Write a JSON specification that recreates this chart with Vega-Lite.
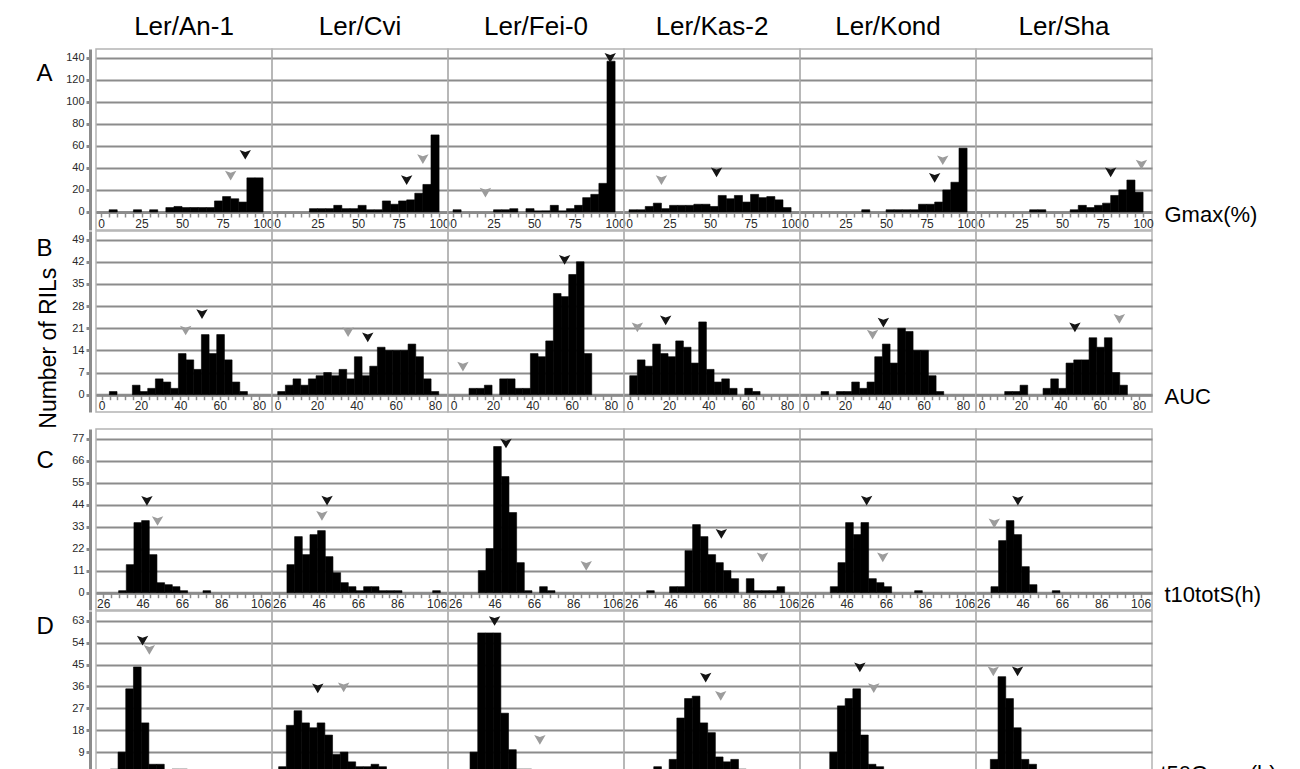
{
  "$schema": "https://vega.github.io/schema/vega-lite/v6.json",
  "background": "white",
  "padding": {"left": 35, "top": 13, "right": 5, "bottom": 0},
  "spacing": -39.5,
  "datasets": {
    "gmax": [
      {"cross":"Ler/An-1","lo":5,"hi":10,"n":2},{"cross":"Ler/An-1","lo":20,"hi":25,"n":2},{"cross":"Ler/An-1","lo":30,"hi":35,"n":2},{"cross":"Ler/An-1","lo":40,"hi":45,"n":4},{"cross":"Ler/An-1","lo":45,"hi":50,"n":5},{"cross":"Ler/An-1","lo":50,"hi":55,"n":4},{"cross":"Ler/An-1","lo":55,"hi":60,"n":4},{"cross":"Ler/An-1","lo":60,"hi":65,"n":4},{"cross":"Ler/An-1","lo":65,"hi":70,"n":4},{"cross":"Ler/An-1","lo":70,"hi":75,"n":10},{"cross":"Ler/An-1","lo":75,"hi":80,"n":14},{"cross":"Ler/An-1","lo":80,"hi":85,"n":12},{"cross":"Ler/An-1","lo":85,"hi":90,"n":9},{"cross":"Ler/An-1","lo":90,"hi":95,"n":31},{"cross":"Ler/An-1","lo":95,"hi":100,"n":31},
      {"cross":"Ler/Cvi","lo":20,"hi":25,"n":3},{"cross":"Ler/Cvi","lo":25,"hi":30,"n":3},{"cross":"Ler/Cvi","lo":30,"hi":35,"n":3},{"cross":"Ler/Cvi","lo":35,"hi":40,"n":6},{"cross":"Ler/Cvi","lo":40,"hi":45,"n":3},{"cross":"Ler/Cvi","lo":45,"hi":50,"n":3},{"cross":"Ler/Cvi","lo":50,"hi":55,"n":6},{"cross":"Ler/Cvi","lo":55,"hi":60,"n":2},{"cross":"Ler/Cvi","lo":60,"hi":65,"n":2},{"cross":"Ler/Cvi","lo":65,"hi":70,"n":10},{"cross":"Ler/Cvi","lo":70,"hi":75,"n":7},{"cross":"Ler/Cvi","lo":75,"hi":80,"n":10},{"cross":"Ler/Cvi","lo":80,"hi":85,"n":11},{"cross":"Ler/Cvi","lo":85,"hi":90,"n":17},{"cross":"Ler/Cvi","lo":90,"hi":95,"n":25},{"cross":"Ler/Cvi","lo":95,"hi":100,"n":70},
      {"cross":"Ler/Fei-0","lo":0,"hi":5,"n":2},{"cross":"Ler/Fei-0","lo":25,"hi":30,"n":2},{"cross":"Ler/Fei-0","lo":30,"hi":35,"n":2},{"cross":"Ler/Fei-0","lo":35,"hi":40,"n":3},{"cross":"Ler/Fei-0","lo":45,"hi":50,"n":3},{"cross":"Ler/Fei-0","lo":50,"hi":55,"n":1},{"cross":"Ler/Fei-0","lo":55,"hi":60,"n":1},{"cross":"Ler/Fei-0","lo":60,"hi":65,"n":6},{"cross":"Ler/Fei-0","lo":65,"hi":70,"n":1},{"cross":"Ler/Fei-0","lo":70,"hi":75,"n":3},{"cross":"Ler/Fei-0","lo":75,"hi":80,"n":6},{"cross":"Ler/Fei-0","lo":80,"hi":85,"n":13},{"cross":"Ler/Fei-0","lo":85,"hi":90,"n":16},{"cross":"Ler/Fei-0","lo":90,"hi":95,"n":26},{"cross":"Ler/Fei-0","lo":95,"hi":100,"n":137},
      {"cross":"Ler/Kas-2","lo":0,"hi":5,"n":2},{"cross":"Ler/Kas-2","lo":5,"hi":10,"n":2},{"cross":"Ler/Kas-2","lo":10,"hi":15,"n":5},{"cross":"Ler/Kas-2","lo":15,"hi":20,"n":8},{"cross":"Ler/Kas-2","lo":20,"hi":25,"n":3},{"cross":"Ler/Kas-2","lo":25,"hi":30,"n":6},{"cross":"Ler/Kas-2","lo":30,"hi":35,"n":6},{"cross":"Ler/Kas-2","lo":35,"hi":40,"n":6},{"cross":"Ler/Kas-2","lo":40,"hi":45,"n":7},{"cross":"Ler/Kas-2","lo":45,"hi":50,"n":7},{"cross":"Ler/Kas-2","lo":50,"hi":55,"n":5},{"cross":"Ler/Kas-2","lo":55,"hi":60,"n":15},{"cross":"Ler/Kas-2","lo":60,"hi":65,"n":12},{"cross":"Ler/Kas-2","lo":65,"hi":70,"n":15},{"cross":"Ler/Kas-2","lo":70,"hi":75,"n":9},{"cross":"Ler/Kas-2","lo":75,"hi":80,"n":16},{"cross":"Ler/Kas-2","lo":80,"hi":85,"n":13},{"cross":"Ler/Kas-2","lo":85,"hi":90,"n":14},{"cross":"Ler/Kas-2","lo":90,"hi":95,"n":11},{"cross":"Ler/Kas-2","lo":95,"hi":100,"n":4},
      {"cross":"Ler/Kond","lo":35,"hi":40,"n":2},{"cross":"Ler/Kond","lo":50,"hi":55,"n":2},{"cross":"Ler/Kond","lo":55,"hi":60,"n":2},{"cross":"Ler/Kond","lo":60,"hi":65,"n":2},{"cross":"Ler/Kond","lo":65,"hi":70,"n":2},{"cross":"Ler/Kond","lo":70,"hi":75,"n":7},{"cross":"Ler/Kond","lo":75,"hi":80,"n":7},{"cross":"Ler/Kond","lo":80,"hi":85,"n":9},{"cross":"Ler/Kond","lo":85,"hi":90,"n":20},{"cross":"Ler/Kond","lo":90,"hi":95,"n":27},{"cross":"Ler/Kond","lo":95,"hi":100,"n":58},
      {"cross":"Ler/Sha","lo":30,"hi":35,"n":2},{"cross":"Ler/Sha","lo":35,"hi":40,"n":2},{"cross":"Ler/Sha","lo":55,"hi":60,"n":2},{"cross":"Ler/Sha","lo":60,"hi":65,"n":6},{"cross":"Ler/Sha","lo":65,"hi":70,"n":4},{"cross":"Ler/Sha","lo":70,"hi":75,"n":6},{"cross":"Ler/Sha","lo":75,"hi":80,"n":8},{"cross":"Ler/Sha","lo":80,"hi":85,"n":15},{"cross":"Ler/Sha","lo":85,"hi":90,"n":20},{"cross":"Ler/Sha","lo":90,"hi":95,"n":29},{"cross":"Ler/Sha","lo":95,"hi":100,"n":18},
      {"cross":"Ler/An-1","parent":"Ler","value":89,"level":52},{"cross":"Ler/An-1","parent":"other","value":80,"level":33},
      {"cross":"Ler/Cvi","parent":"Ler","value":80,"level":29},{"cross":"Ler/Cvi","parent":"other","value":90,"level":48},
      {"cross":"Ler/Fei-0","parent":"Ler","value":97,"level":140},{"cross":"Ler/Fei-0","parent":"other","value":20,"level":17.5},
      {"cross":"Ler/Kas-2","parent":"Ler","value":54,"level":36},{"cross":"Ler/Kas-2","parent":"other","value":20,"level":29},
      {"cross":"Ler/Kond","parent":"Ler","value":80,"level":31},{"cross":"Ler/Kond","parent":"other","value":85,"level":47},
      {"cross":"Ler/Sha","parent":"Ler","value":80,"level":36},{"cross":"Ler/Sha","parent":"other","value":99,"level":43}
    ],
    "auc": [
      {"cross":"Ler/An-1","lo":3.9,"hi":7.8,"n":1},{"cross":"Ler/An-1","lo":15.6,"hi":19.5,"n":3},{"cross":"Ler/An-1","lo":19.5,"hi":23.4,"n":1},{"cross":"Ler/An-1","lo":23.4,"hi":27.3,"n":2},{"cross":"Ler/An-1","lo":27.3,"hi":31.2,"n":5},{"cross":"Ler/An-1","lo":31.2,"hi":35.1,"n":4},{"cross":"Ler/An-1","lo":35.1,"hi":39,"n":2},{"cross":"Ler/An-1","lo":39,"hi":42.9,"n":13},{"cross":"Ler/An-1","lo":42.9,"hi":46.8,"n":11},{"cross":"Ler/An-1","lo":46.8,"hi":50.7,"n":8},{"cross":"Ler/An-1","lo":50.7,"hi":54.6,"n":19},{"cross":"Ler/An-1","lo":54.6,"hi":58.5,"n":13},{"cross":"Ler/An-1","lo":58.5,"hi":62.4,"n":19},{"cross":"Ler/An-1","lo":62.4,"hi":66.3,"n":11},{"cross":"Ler/An-1","lo":66.3,"hi":70.2,"n":4},{"cross":"Ler/An-1","lo":70.2,"hi":74.1,"n":1},
      {"cross":"Ler/Cvi","lo":0,"hi":3.9,"n":1},{"cross":"Ler/Cvi","lo":3.9,"hi":7.8,"n":3},{"cross":"Ler/Cvi","lo":7.8,"hi":11.7,"n":5},{"cross":"Ler/Cvi","lo":11.7,"hi":15.6,"n":3},{"cross":"Ler/Cvi","lo":15.6,"hi":19.5,"n":5},{"cross":"Ler/Cvi","lo":19.5,"hi":23.4,"n":6},{"cross":"Ler/Cvi","lo":23.4,"hi":27.3,"n":7},{"cross":"Ler/Cvi","lo":27.3,"hi":31.2,"n":6},{"cross":"Ler/Cvi","lo":31.2,"hi":35.1,"n":8},{"cross":"Ler/Cvi","lo":35.1,"hi":39,"n":5},{"cross":"Ler/Cvi","lo":39,"hi":42.9,"n":12},{"cross":"Ler/Cvi","lo":42.9,"hi":46.8,"n":6},{"cross":"Ler/Cvi","lo":46.8,"hi":50.7,"n":9},{"cross":"Ler/Cvi","lo":50.7,"hi":54.6,"n":15},{"cross":"Ler/Cvi","lo":54.6,"hi":58.5,"n":14},{"cross":"Ler/Cvi","lo":58.5,"hi":62.4,"n":14},{"cross":"Ler/Cvi","lo":62.4,"hi":66.3,"n":14},{"cross":"Ler/Cvi","lo":66.3,"hi":70.2,"n":16},{"cross":"Ler/Cvi","lo":70.2,"hi":74.1,"n":12},{"cross":"Ler/Cvi","lo":74.1,"hi":78,"n":5},{"cross":"Ler/Cvi","lo":78,"hi":81.9,"n":1},
      {"cross":"Ler/Fei-0","lo":7.8,"hi":11.7,"n":2},{"cross":"Ler/Fei-0","lo":11.7,"hi":15.6,"n":2},{"cross":"Ler/Fei-0","lo":15.6,"hi":19.5,"n":3},{"cross":"Ler/Fei-0","lo":23.4,"hi":27.3,"n":5},{"cross":"Ler/Fei-0","lo":27.3,"hi":31.2,"n":5},{"cross":"Ler/Fei-0","lo":31.2,"hi":35.1,"n":2},{"cross":"Ler/Fei-0","lo":35.1,"hi":39,"n":2},{"cross":"Ler/Fei-0","lo":39,"hi":42.9,"n":13},{"cross":"Ler/Fei-0","lo":42.9,"hi":46.8,"n":12},{"cross":"Ler/Fei-0","lo":46.8,"hi":50.7,"n":17},{"cross":"Ler/Fei-0","lo":50.7,"hi":54.6,"n":32},{"cross":"Ler/Fei-0","lo":54.6,"hi":58.5,"n":31},{"cross":"Ler/Fei-0","lo":58.5,"hi":62.4,"n":38},{"cross":"Ler/Fei-0","lo":62.4,"hi":66.3,"n":42},{"cross":"Ler/Fei-0","lo":66.3,"hi":70.2,"n":13},
      {"cross":"Ler/Kas-2","lo":0,"hi":3.9,"n":6},{"cross":"Ler/Kas-2","lo":3.9,"hi":7.8,"n":11},{"cross":"Ler/Kas-2","lo":7.8,"hi":11.7,"n":9},{"cross":"Ler/Kas-2","lo":11.7,"hi":15.6,"n":16},{"cross":"Ler/Kas-2","lo":15.6,"hi":19.5,"n":13},{"cross":"Ler/Kas-2","lo":19.5,"hi":23.4,"n":12},{"cross":"Ler/Kas-2","lo":23.4,"hi":27.3,"n":17},{"cross":"Ler/Kas-2","lo":27.3,"hi":31.2,"n":15},{"cross":"Ler/Kas-2","lo":31.2,"hi":35.1,"n":10},{"cross":"Ler/Kas-2","lo":35.1,"hi":39,"n":23},{"cross":"Ler/Kas-2","lo":39,"hi":42.9,"n":8},{"cross":"Ler/Kas-2","lo":42.9,"hi":46.8,"n":4},{"cross":"Ler/Kas-2","lo":46.8,"hi":50.7,"n":5},{"cross":"Ler/Kas-2","lo":50.7,"hi":54.6,"n":2},{"cross":"Ler/Kas-2","lo":58.5,"hi":62.4,"n":2},{"cross":"Ler/Kas-2","lo":62.4,"hi":66.3,"n":1},
      {"cross":"Ler/Kond","lo":7.8,"hi":11.7,"n":1},{"cross":"Ler/Kond","lo":15.6,"hi":19.5,"n":1},{"cross":"Ler/Kond","lo":19.5,"hi":23.4,"n":1},{"cross":"Ler/Kond","lo":23.4,"hi":27.3,"n":4},{"cross":"Ler/Kond","lo":27.3,"hi":31.2,"n":2},{"cross":"Ler/Kond","lo":31.2,"hi":35.1,"n":4},{"cross":"Ler/Kond","lo":35.1,"hi":39,"n":12},{"cross":"Ler/Kond","lo":39,"hi":42.9,"n":16},{"cross":"Ler/Kond","lo":42.9,"hi":46.8,"n":10},{"cross":"Ler/Kond","lo":46.8,"hi":50.7,"n":21},{"cross":"Ler/Kond","lo":50.7,"hi":54.6,"n":20},{"cross":"Ler/Kond","lo":54.6,"hi":58.5,"n":14},{"cross":"Ler/Kond","lo":58.5,"hi":62.4,"n":14},{"cross":"Ler/Kond","lo":62.4,"hi":66.3,"n":6},{"cross":"Ler/Kond","lo":66.3,"hi":70.2,"n":1},
      {"cross":"Ler/Sha","lo":11.7,"hi":15.6,"n":1},{"cross":"Ler/Sha","lo":15.6,"hi":19.5,"n":1},{"cross":"Ler/Sha","lo":19.5,"hi":23.4,"n":3},{"cross":"Ler/Sha","lo":31.2,"hi":35.1,"n":2},{"cross":"Ler/Sha","lo":35.1,"hi":39,"n":5},{"cross":"Ler/Sha","lo":39,"hi":42.9,"n":2},{"cross":"Ler/Sha","lo":42.9,"hi":46.8,"n":10},{"cross":"Ler/Sha","lo":46.8,"hi":50.7,"n":11},{"cross":"Ler/Sha","lo":50.7,"hi":54.6,"n":11},{"cross":"Ler/Sha","lo":54.6,"hi":58.5,"n":18},{"cross":"Ler/Sha","lo":58.5,"hi":62.4,"n":15},{"cross":"Ler/Sha","lo":62.4,"hi":66.3,"n":18},{"cross":"Ler/Sha","lo":66.3,"hi":70.2,"n":7},{"cross":"Ler/Sha","lo":70.2,"hi":74.1,"n":3},
      {"cross":"Ler/An-1","parent":"other","value":42.7,"level":20.3},{"cross":"Ler/An-1","parent":"Ler","value":51,"level":25.5},
      {"cross":"Ler/Cvi","parent":"other","value":35.8,"level":19.8},{"cross":"Ler/Cvi","parent":"Ler","value":45.8,"level":18.1},
      {"cross":"Ler/Fei-0","parent":"other","value":4.7,"level":8.9},{"cross":"Ler/Fei-0","parent":"Ler","value":56.4,"level":42.6},
      {"cross":"Ler/Kas-2","parent":"other","value":3.9,"level":21.3},{"cross":"Ler/Kas-2","parent":"Ler","value":18.3,"level":23.5},
      {"cross":"Ler/Kond","parent":"other","value":34,"level":19},{"cross":"Ler/Kond","parent":"Ler","value":39.5,"level":22.8},
      {"cross":"Ler/Sha","parent":"Ler","value":47.4,"level":21.3},{"cross":"Ler/Sha","parent":"other","value":70,"level":24}
    ],
    "t10": [
      {"cross":"Ler/An-1","lo":33.8,"hi":37.7,"n":1},{"cross":"Ler/An-1","lo":37.7,"hi":41.6,"n":14},{"cross":"Ler/An-1","lo":41.6,"hi":45.5,"n":35},{"cross":"Ler/An-1","lo":45.5,"hi":49.4,"n":36},{"cross":"Ler/An-1","lo":49.4,"hi":53.3,"n":19},{"cross":"Ler/An-1","lo":53.3,"hi":57.2,"n":5},{"cross":"Ler/An-1","lo":57.2,"hi":61.1,"n":4},{"cross":"Ler/An-1","lo":61.1,"hi":65,"n":3},{"cross":"Ler/An-1","lo":65,"hi":68.9,"n":1},{"cross":"Ler/An-1","lo":76.7,"hi":80.6,"n":1},
      {"cross":"Ler/Cvi","lo":29.9,"hi":33.8,"n":14},{"cross":"Ler/Cvi","lo":33.8,"hi":37.7,"n":28},{"cross":"Ler/Cvi","lo":37.7,"hi":41.6,"n":19},{"cross":"Ler/Cvi","lo":41.6,"hi":45.5,"n":29},{"cross":"Ler/Cvi","lo":45.5,"hi":49.4,"n":31},{"cross":"Ler/Cvi","lo":49.4,"hi":53.3,"n":18},{"cross":"Ler/Cvi","lo":53.3,"hi":57.2,"n":10},{"cross":"Ler/Cvi","lo":57.2,"hi":61.1,"n":5},{"cross":"Ler/Cvi","lo":61.1,"hi":65,"n":3},{"cross":"Ler/Cvi","lo":65,"hi":68.9,"n":1},{"cross":"Ler/Cvi","lo":68.9,"hi":72.8,"n":3},{"cross":"Ler/Cvi","lo":72.8,"hi":76.7,"n":3},{"cross":"Ler/Cvi","lo":76.7,"hi":80.6,"n":1},{"cross":"Ler/Cvi","lo":80.6,"hi":84.5,"n":1},{"cross":"Ler/Cvi","lo":84.5,"hi":88.4,"n":1},{"cross":"Ler/Cvi","lo":104,"hi":107.9,"n":1},
      {"cross":"Ler/Fei-0","lo":37.7,"hi":41.6,"n":11},{"cross":"Ler/Fei-0","lo":41.6,"hi":45.5,"n":22},{"cross":"Ler/Fei-0","lo":45.5,"hi":49.4,"n":73},{"cross":"Ler/Fei-0","lo":49.4,"hi":53.3,"n":58},{"cross":"Ler/Fei-0","lo":53.3,"hi":57.2,"n":40},{"cross":"Ler/Fei-0","lo":57.2,"hi":61.1,"n":15},{"cross":"Ler/Fei-0","lo":61.1,"hi":65,"n":1},{"cross":"Ler/Fei-0","lo":68.9,"hi":72.8,"n":3},{"cross":"Ler/Fei-0","lo":72.8,"hi":76.7,"n":1},
      {"cross":"Ler/Kas-2","lo":33.8,"hi":37.7,"n":1},{"cross":"Ler/Kas-2","lo":45.5,"hi":49.4,"n":3},{"cross":"Ler/Kas-2","lo":49.4,"hi":53.3,"n":3},{"cross":"Ler/Kas-2","lo":53.3,"hi":57.2,"n":21},{"cross":"Ler/Kas-2","lo":57.2,"hi":61.1,"n":34},{"cross":"Ler/Kas-2","lo":61.1,"hi":65,"n":28},{"cross":"Ler/Kas-2","lo":65,"hi":68.9,"n":19},{"cross":"Ler/Kas-2","lo":68.9,"hi":72.8,"n":15},{"cross":"Ler/Kas-2","lo":72.8,"hi":76.7,"n":11},{"cross":"Ler/Kas-2","lo":76.7,"hi":80.6,"n":7},{"cross":"Ler/Kas-2","lo":84.5,"hi":88.4,"n":7},{"cross":"Ler/Kas-2","lo":88.4,"hi":92.3,"n":1},{"cross":"Ler/Kas-2","lo":92.3,"hi":96.2,"n":1},{"cross":"Ler/Kas-2","lo":96.2,"hi":100.1,"n":1},{"cross":"Ler/Kas-2","lo":100.1,"hi":104,"n":3},
      {"cross":"Ler/Kond","lo":37.7,"hi":41.6,"n":3},{"cross":"Ler/Kond","lo":41.6,"hi":45.5,"n":15},{"cross":"Ler/Kond","lo":45.5,"hi":49.4,"n":35},{"cross":"Ler/Kond","lo":49.4,"hi":53.3,"n":29},{"cross":"Ler/Kond","lo":53.3,"hi":57.2,"n":35},{"cross":"Ler/Kond","lo":57.2,"hi":61.1,"n":7},{"cross":"Ler/Kond","lo":61.1,"hi":65,"n":5},{"cross":"Ler/Kond","lo":65,"hi":68.9,"n":3},{"cross":"Ler/Kond","lo":80.6,"hi":84.5,"n":1},
      {"cross":"Ler/Sha","lo":29.9,"hi":33.8,"n":3},{"cross":"Ler/Sha","lo":33.8,"hi":37.7,"n":26},{"cross":"Ler/Sha","lo":37.7,"hi":41.6,"n":36},{"cross":"Ler/Sha","lo":41.6,"hi":45.5,"n":29},{"cross":"Ler/Sha","lo":45.5,"hi":49.4,"n":13},{"cross":"Ler/Sha","lo":49.4,"hi":53.3,"n":4},{"cross":"Ler/Sha","lo":61.1,"hi":65,"n":1},
      {"cross":"Ler/An-1","parent":"Ler","value":48.2,"level":45.9},{"cross":"Ler/An-1","parent":"other","value":53.6,"level":35.8},
      {"cross":"Ler/Cvi","parent":"Ler","value":50.3,"level":46},{"cross":"Ler/Cvi","parent":"other","value":47.7,"level":38.4},
      {"cross":"Ler/Fei-0","parent":"Ler","value":51.8,"level":74.5},{"cross":"Ler/Fei-0","parent":"other","value":92.6,"level":13.4},
      {"cross":"Ler/Kas-2","parent":"Ler","value":71.8,"level":29.4},{"cross":"Ler/Kas-2","parent":"other","value":92.7,"level":17.6},
      {"cross":"Ler/Kond","parent":"Ler","value":56.2,"level":46},{"cross":"Ler/Kond","parent":"other","value":64.4,"level":17.6},
      {"cross":"Ler/Sha","parent":"other","value":31.6,"level":34.6},{"cross":"Ler/Sha","parent":"Ler","value":43.6,"level":46}
    ],
    "t50": [
      {"cross":"Ler/An-1","lo":39.76,"hi":44.52,"n":2},{"cross":"Ler/An-1","lo":44.52,"hi":49.29,"n":9},{"cross":"Ler/An-1","lo":49.29,"hi":54.05,"n":35},{"cross":"Ler/An-1","lo":54.05,"hi":58.81,"n":44},{"cross":"Ler/An-1","lo":58.81,"hi":63.57,"n":21},{"cross":"Ler/An-1","lo":63.57,"hi":68.33,"n":4},{"cross":"Ler/An-1","lo":68.33,"hi":73.1,"n":4},{"cross":"Ler/An-1","lo":77.86,"hi":82.62,"n":2},{"cross":"Ler/An-1","lo":82.62,"hi":87.38,"n":2},
      {"cross":"Ler/Cvi","lo":35,"hi":39.76,"n":3},{"cross":"Ler/Cvi","lo":39.76,"hi":44.52,"n":20},{"cross":"Ler/Cvi","lo":44.52,"hi":49.29,"n":26},{"cross":"Ler/Cvi","lo":49.29,"hi":54.05,"n":21},{"cross":"Ler/Cvi","lo":54.05,"hi":58.81,"n":19},{"cross":"Ler/Cvi","lo":58.81,"hi":63.57,"n":21},{"cross":"Ler/Cvi","lo":63.57,"hi":68.33,"n":16},{"cross":"Ler/Cvi","lo":68.33,"hi":73.1,"n":8},{"cross":"Ler/Cvi","lo":73.1,"hi":77.86,"n":9},{"cross":"Ler/Cvi","lo":77.86,"hi":82.62,"n":5},{"cross":"Ler/Cvi","lo":82.62,"hi":87.38,"n":3},{"cross":"Ler/Cvi","lo":87.38,"hi":92.14,"n":3},{"cross":"Ler/Cvi","lo":92.14,"hi":96.9,"n":4},{"cross":"Ler/Cvi","lo":96.9,"hi":101.67,"n":3},{"cross":"Ler/Cvi","lo":130.24,"hi":135,"n":1},
      {"cross":"Ler/Fei-0","lo":44.52,"hi":49.29,"n":9},{"cross":"Ler/Fei-0","lo":49.29,"hi":54.05,"n":58},{"cross":"Ler/Fei-0","lo":54.05,"hi":58.81,"n":58},{"cross":"Ler/Fei-0","lo":58.81,"hi":63.57,"n":58},{"cross":"Ler/Fei-0","lo":63.57,"hi":68.33,"n":25},{"cross":"Ler/Fei-0","lo":68.33,"hi":73.1,"n":10},{"cross":"Ler/Fei-0","lo":73.1,"hi":77.86,"n":2},{"cross":"Ler/Fei-0","lo":77.86,"hi":82.62,"n":2},{"cross":"Ler/Fei-0","lo":82.62,"hi":87.38,"n":1},
      {"cross":"Ler/Kas-2","lo":49.29,"hi":54.05,"n":3},{"cross":"Ler/Kas-2","lo":54.05,"hi":58.81,"n":1},{"cross":"Ler/Kas-2","lo":58.81,"hi":63.57,"n":6},{"cross":"Ler/Kas-2","lo":63.57,"hi":68.33,"n":23},{"cross":"Ler/Kas-2","lo":68.33,"hi":73.1,"n":31},{"cross":"Ler/Kas-2","lo":73.1,"hi":77.86,"n":32},{"cross":"Ler/Kas-2","lo":77.86,"hi":82.62,"n":21},{"cross":"Ler/Kas-2","lo":82.62,"hi":87.38,"n":17},{"cross":"Ler/Kas-2","lo":87.38,"hi":92.14,"n":7},{"cross":"Ler/Kas-2","lo":92.14,"hi":96.9,"n":5},{"cross":"Ler/Kas-2","lo":96.9,"hi":101.67,"n":6},{"cross":"Ler/Kas-2","lo":101.67,"hi":106.43,"n":2},
      {"cross":"Ler/Kond","lo":44.52,"hi":49.29,"n":1},{"cross":"Ler/Kond","lo":49.29,"hi":54.05,"n":9},{"cross":"Ler/Kond","lo":54.05,"hi":58.81,"n":28},{"cross":"Ler/Kond","lo":58.81,"hi":63.57,"n":31},{"cross":"Ler/Kond","lo":63.57,"hi":68.33,"n":35},{"cross":"Ler/Kond","lo":68.33,"hi":73.1,"n":16},{"cross":"Ler/Kond","lo":73.1,"hi":77.86,"n":4},{"cross":"Ler/Kond","lo":77.86,"hi":82.62,"n":3},{"cross":"Ler/Kond","lo":87.38,"hi":92.14,"n":1},
      {"cross":"Ler/Sha","lo":35,"hi":39.76,"n":1},{"cross":"Ler/Sha","lo":39.76,"hi":44.52,"n":6},{"cross":"Ler/Sha","lo":44.52,"hi":49.29,"n":40},{"cross":"Ler/Sha","lo":49.29,"hi":54.05,"n":31},{"cross":"Ler/Sha","lo":54.05,"hi":58.81,"n":19},{"cross":"Ler/Sha","lo":58.81,"hi":63.57,"n":6},{"cross":"Ler/Sha","lo":63.57,"hi":68.33,"n":4},
      {"cross":"Ler/An-1","parent":"Ler","value":59.7,"level":54.8},{"cross":"Ler/An-1","parent":"other","value":63.9,"level":51},
      {"cross":"Ler/Cvi","parent":"Ler","value":59.2,"level":35.2},{"cross":"Ler/Cvi","parent":"other","value":75.2,"level":35.6},
      {"cross":"Ler/Fei-0","parent":"Ler","value":59.7,"level":62.9},{"cross":"Ler/Fei-0","parent":"other","value":87.7,"level":14},
      {"cross":"Ler/Kas-2","parent":"Ler","value":81.4,"level":39.6},{"cross":"Ler/Kas-2","parent":"other","value":90.7,"level":32.1},
      {"cross":"Ler/Kond","parent":"Ler","value":67.9,"level":43.8},{"cross":"Ler/Kond","parent":"other","value":76.5,"level":35.3},
      {"cross":"Ler/Sha","parent":"other","value":41.6,"level":42.2},{"cross":"Ler/Sha","parent":"Ler","value":56.6,"level":42.2}
    ]
  },
  "vconcat": [
  {"spacing": -3, "vconcat": [
    {"hconcat": [
      {"data":{"name":"gmax"},"transform":[{"filter":{"field":"cross","equal":"Ler/An-1"}}],"title":"Ler/An-1","width":176,"height":181,"layer":[
        {"transform":[{"filter":"isValid(datum.n)"}],"mark":{"type":"rect","color":"#000000","stroke":"#000000","strokeWidth":0.6},"encoding":{"x":{"field":"lo","type":"quantitative","scale":{"domain":[-3.1,105.5],"nice":false,"zero":false},"axis":{"title":null,"values":[0,5,10,15,20,25,30,35,40,45,50,55,60,65,70,75,80,85,90,95,100],"labelExpr":"datum.value % 25 === 0 ? datum.label : ''","offset":-18}},"x2":{"field":"hi"},"y":{"field":"n","type":"quantitative","scale":{"domain":[-16.4,148.1],"nice":false,"zero":false},"axis":{"title":"A","titleAngle":0,"titleX":-54,"titleY":24,"titleAlign":"left","titleBaseline":"middle","titleFontSize":24,"values":[0,20,40,60,80,100,120,140],"offset":6}},"y2":{"datum":0}}},
        {"transform":[{"filter":"isValid(datum.parent)"}],"mark":{"type":"point","shape":"M-1,-0.85L0,-0.5L1,-0.85L0,0.85Z","filled":true,"size":130,"opacity":1},"encoding":{"x":{"field":"value","type":"quantitative","axis":{"title":null,"values":[0,5,10,15,20,25,30,35,40,45,50,55,60,65,70,75,80,85,90,95,100],"labelExpr":"datum.value % 25 === 0 ? datum.label : ''","offset":-18}},"y":{"field":"level","type":"quantitative","axis":{"title":"A","titleAngle":0,"titleX":-54,"titleY":24,"titleAlign":"left","titleBaseline":"middle","titleFontSize":24,"values":[0,20,40,60,80,100,120,140],"offset":6}},"color":{"condition":{"test":"datum.parent === 'Ler'","value":"#141414"},"value":"#9c9c9c"}}}]},
      {"data":{"name":"gmax"},"transform":[{"filter":{"field":"cross","equal":"Ler/Cvi"}}],"title":"Ler/Cvi","width":176,"height":181,"layer":[
        {"transform":[{"filter":"isValid(datum.n)"}],"mark":{"type":"rect","color":"#000000","stroke":"#000000","strokeWidth":0.6},"encoding":{"x":{"field":"lo","type":"quantitative","scale":{"domain":[-3.1,105.5],"nice":false,"zero":false},"axis":{"title":null,"values":[0,5,10,15,20,25,30,35,40,45,50,55,60,65,70,75,80,85,90,95,100],"labelExpr":"datum.value % 25 === 0 ? datum.label : ''","offset":-18}},"x2":{"field":"hi"},"y":{"field":"n","type":"quantitative","scale":{"domain":[-16.4,148.1],"nice":false,"zero":false},"axis":{"title":null,"values":[0,20,40,60,80,100,120,140],"labels":false,"ticks":false,"domain":false}},"y2":{"datum":0}}},
        {"transform":[{"filter":"isValid(datum.parent)"}],"mark":{"type":"point","shape":"M-1,-0.85L0,-0.5L1,-0.85L0,0.85Z","filled":true,"size":130,"opacity":1},"encoding":{"x":{"field":"value","type":"quantitative","axis":{"title":null,"values":[0,5,10,15,20,25,30,35,40,45,50,55,60,65,70,75,80,85,90,95,100],"labelExpr":"datum.value % 25 === 0 ? datum.label : ''","offset":-18}},"y":{"field":"level","type":"quantitative","axis":{"title":null,"values":[0,20,40,60,80,100,120,140],"labels":false,"ticks":false,"domain":false}},"color":{"condition":{"test":"datum.parent === 'Ler'","value":"#141414"},"value":"#9c9c9c"}}}]},
      {"data":{"name":"gmax"},"transform":[{"filter":{"field":"cross","equal":"Ler/Fei-0"}}],"title":"Ler/Fei-0","width":176,"height":181,"layer":[
        {"transform":[{"filter":"isValid(datum.n)"}],"mark":{"type":"rect","color":"#000000","stroke":"#000000","strokeWidth":0.6},"encoding":{"x":{"field":"lo","type":"quantitative","scale":{"domain":[-3.1,105.5],"nice":false,"zero":false},"axis":{"title":null,"values":[0,5,10,15,20,25,30,35,40,45,50,55,60,65,70,75,80,85,90,95,100],"labelExpr":"datum.value % 25 === 0 ? datum.label : ''","offset":-18}},"x2":{"field":"hi"},"y":{"field":"n","type":"quantitative","scale":{"domain":[-16.4,148.1],"nice":false,"zero":false},"axis":{"title":null,"values":[0,20,40,60,80,100,120,140],"labels":false,"ticks":false,"domain":false}},"y2":{"datum":0}}},
        {"transform":[{"filter":"isValid(datum.parent)"}],"mark":{"type":"point","shape":"M-1,-0.85L0,-0.5L1,-0.85L0,0.85Z","filled":true,"size":130,"opacity":1},"encoding":{"x":{"field":"value","type":"quantitative","axis":{"title":null,"values":[0,5,10,15,20,25,30,35,40,45,50,55,60,65,70,75,80,85,90,95,100],"labelExpr":"datum.value % 25 === 0 ? datum.label : ''","offset":-18}},"y":{"field":"level","type":"quantitative","axis":{"title":null,"values":[0,20,40,60,80,100,120,140],"labels":false,"ticks":false,"domain":false}},"color":{"condition":{"test":"datum.parent === 'Ler'","value":"#141414"},"value":"#9c9c9c"}}}]},
      {"data":{"name":"gmax"},"transform":[{"filter":{"field":"cross","equal":"Ler/Kas-2"}}],"title":"Ler/Kas-2","width":176,"height":181,"layer":[
        {"transform":[{"filter":"isValid(datum.n)"}],"mark":{"type":"rect","color":"#000000","stroke":"#000000","strokeWidth":0.6},"encoding":{"x":{"field":"lo","type":"quantitative","scale":{"domain":[-3.1,105.5],"nice":false,"zero":false},"axis":{"title":null,"values":[0,5,10,15,20,25,30,35,40,45,50,55,60,65,70,75,80,85,90,95,100],"labelExpr":"datum.value % 25 === 0 ? datum.label : ''","offset":-18}},"x2":{"field":"hi"},"y":{"field":"n","type":"quantitative","scale":{"domain":[-16.4,148.1],"nice":false,"zero":false},"axis":{"title":null,"values":[0,20,40,60,80,100,120,140],"labels":false,"ticks":false,"domain":false}},"y2":{"datum":0}}},
        {"transform":[{"filter":"isValid(datum.parent)"}],"mark":{"type":"point","shape":"M-1,-0.85L0,-0.5L1,-0.85L0,0.85Z","filled":true,"size":130,"opacity":1},"encoding":{"x":{"field":"value","type":"quantitative","axis":{"title":null,"values":[0,5,10,15,20,25,30,35,40,45,50,55,60,65,70,75,80,85,90,95,100],"labelExpr":"datum.value % 25 === 0 ? datum.label : ''","offset":-18}},"y":{"field":"level","type":"quantitative","axis":{"title":null,"values":[0,20,40,60,80,100,120,140],"labels":false,"ticks":false,"domain":false}},"color":{"condition":{"test":"datum.parent === 'Ler'","value":"#141414"},"value":"#9c9c9c"}}}]},
      {"data":{"name":"gmax"},"transform":[{"filter":{"field":"cross","equal":"Ler/Kond"}}],"title":"Ler/Kond","width":176,"height":181,"layer":[
        {"transform":[{"filter":"isValid(datum.n)"}],"mark":{"type":"rect","color":"#000000","stroke":"#000000","strokeWidth":0.6},"encoding":{"x":{"field":"lo","type":"quantitative","scale":{"domain":[-3.1,105.5],"nice":false,"zero":false},"axis":{"title":null,"values":[0,5,10,15,20,25,30,35,40,45,50,55,60,65,70,75,80,85,90,95,100],"labelExpr":"datum.value % 25 === 0 ? datum.label : ''","offset":-18}},"x2":{"field":"hi"},"y":{"field":"n","type":"quantitative","scale":{"domain":[-16.4,148.1],"nice":false,"zero":false},"axis":{"title":null,"values":[0,20,40,60,80,100,120,140],"labels":false,"ticks":false,"domain":false}},"y2":{"datum":0}}},
        {"transform":[{"filter":"isValid(datum.parent)"}],"mark":{"type":"point","shape":"M-1,-0.85L0,-0.5L1,-0.85L0,0.85Z","filled":true,"size":130,"opacity":1},"encoding":{"x":{"field":"value","type":"quantitative","axis":{"title":null,"values":[0,5,10,15,20,25,30,35,40,45,50,55,60,65,70,75,80,85,90,95,100],"labelExpr":"datum.value % 25 === 0 ? datum.label : ''","offset":-18}},"y":{"field":"level","type":"quantitative","axis":{"title":null,"values":[0,20,40,60,80,100,120,140],"labels":false,"ticks":false,"domain":false}},"color":{"condition":{"test":"datum.parent === 'Ler'","value":"#141414"},"value":"#9c9c9c"}}}]},
      {"data":{"name":"gmax"},"transform":[{"filter":{"field":"cross","equal":"Ler/Sha"}}],"title":"Ler/Sha","width":176,"height":181,"layer":[
        {"transform":[{"filter":"isValid(datum.n)"}],"mark":{"type":"rect","color":"#000000","stroke":"#000000","strokeWidth":0.6},"encoding":{"x":{"field":"lo","type":"quantitative","scale":{"domain":[-3.1,105.5],"nice":false,"zero":false},"axis":{"title":null,"values":[0,5,10,15,20,25,30,35,40,45,50,55,60,65,70,75,80,85,90,95,100],"labelExpr":"datum.value % 25 === 0 ? datum.label : ''","offset":-18}},"x2":{"field":"hi"},"y":{"field":"n","type":"quantitative","scale":{"domain":[-16.4,148.1],"nice":false,"zero":false},"axis":{"title":"Gmax(%)","orient":"right","titleAngle":0,"titleX":12,"titleY":172,"titleAlign":"left","titleBaseline":"alphabetic","titleFontSize":22,"values":[0,20,40,60,80,100,120,140],"labels":false,"ticks":false,"domain":false}},"y2":{"datum":0}}},
        {"transform":[{"filter":"isValid(datum.parent)"}],"mark":{"type":"point","shape":"M-1,-0.85L0,-0.5L1,-0.85L0,0.85Z","filled":true,"size":130,"opacity":1},"encoding":{"x":{"field":"value","type":"quantitative","axis":{"title":null,"values":[0,5,10,15,20,25,30,35,40,45,50,55,60,65,70,75,80,85,90,95,100],"labelExpr":"datum.value % 25 === 0 ? datum.label : ''","offset":-18}},"y":{"field":"level","type":"quantitative","axis":{"title":"Gmax(%)","orient":"right","titleAngle":0,"titleX":12,"titleY":172,"titleAlign":"left","titleBaseline":"alphabetic","titleFontSize":22,"values":[0,20,40,60,80,100,120,140],"labels":false,"ticks":false,"domain":false}},"color":{"condition":{"test":"datum.parent === 'Ler'","value":"#141414"},"value":"#9c9c9c"}}}]}
    ], "spacing": 0, "bounds": "flush"},
    {"hconcat": [
      {"data":{"name":"auc"},"transform":[{"filter":{"field":"cross","equal":"Ler/An-1"}}],"width":176,"height":181,"layer":[
        {"transform":[{"filter":"isValid(datum.n)"}],"mark":{"type":"rect","color":"#000000","stroke":"#000000","strokeWidth":0.6},"encoding":{"x":{"field":"lo","type":"quantitative","scale":{"domain":[-2.9,86.6],"nice":false,"zero":false},"axis":{"title":"Number of RILs","titleAngle":-90,"titleX":-48,"titleY":-47,"titleAlign":"center","titleBaseline":"middle","titleFontSize":23,"values":[0,4,8,12,16,20,24,28,32,36,40,44,48,52,56,60,64,68,72,76,80],"labelExpr":"datum.value % 20 === 0 ? datum.label : ''","offset":-17.3}},"x2":{"field":"hi"},"y":{"field":"n","type":"quantitative","scale":{"domain":[-5.47,51.75],"nice":false,"zero":false},"axis":{"title":"B","titleAngle":0,"titleX":-54,"titleY":17,"titleAlign":"left","titleBaseline":"middle","titleFontSize":24,"values":[0,7,14,21,28,35,42,49],"offset":6}},"y2":{"datum":0}}},
        {"transform":[{"filter":"isValid(datum.parent)"}],"mark":{"type":"point","shape":"M-1,-0.85L0,-0.5L1,-0.85L0,0.85Z","filled":true,"size":130,"opacity":1},"encoding":{"x":{"field":"value","type":"quantitative","axis":{"title":"Number of RILs","titleAngle":-90,"titleX":-48,"titleY":-47,"titleAlign":"center","titleBaseline":"middle","titleFontSize":23,"values":[0,4,8,12,16,20,24,28,32,36,40,44,48,52,56,60,64,68,72,76,80],"labelExpr":"datum.value % 20 === 0 ? datum.label : ''","offset":-17.3}},"y":{"field":"level","type":"quantitative","axis":{"title":"B","titleAngle":0,"titleX":-54,"titleY":17,"titleAlign":"left","titleBaseline":"middle","titleFontSize":24,"values":[0,7,14,21,28,35,42,49],"offset":6}},"color":{"condition":{"test":"datum.parent === 'Ler'","value":"#141414"},"value":"#9c9c9c"}}}]},
      {"data":{"name":"auc"},"transform":[{"filter":{"field":"cross","equal":"Ler/Cvi"}}],"width":176,"height":181,"layer":[
        {"transform":[{"filter":"isValid(datum.n)"}],"mark":{"type":"rect","color":"#000000","stroke":"#000000","strokeWidth":0.6},"encoding":{"x":{"field":"lo","type":"quantitative","scale":{"domain":[-2.9,86.6],"nice":false,"zero":false},"axis":{"title":null,"values":[0,4,8,12,16,20,24,28,32,36,40,44,48,52,56,60,64,68,72,76,80],"labelExpr":"datum.value % 20 === 0 ? datum.label : ''","offset":-17.3}},"x2":{"field":"hi"},"y":{"field":"n","type":"quantitative","scale":{"domain":[-5.47,51.75],"nice":false,"zero":false},"axis":{"title":null,"values":[0,7,14,21,28,35,42,49],"labels":false,"ticks":false,"domain":false}},"y2":{"datum":0}}},
        {"transform":[{"filter":"isValid(datum.parent)"}],"mark":{"type":"point","shape":"M-1,-0.85L0,-0.5L1,-0.85L0,0.85Z","filled":true,"size":130,"opacity":1},"encoding":{"x":{"field":"value","type":"quantitative","axis":{"title":null,"values":[0,4,8,12,16,20,24,28,32,36,40,44,48,52,56,60,64,68,72,76,80],"labelExpr":"datum.value % 20 === 0 ? datum.label : ''","offset":-17.3}},"y":{"field":"level","type":"quantitative","axis":{"title":null,"values":[0,7,14,21,28,35,42,49],"labels":false,"ticks":false,"domain":false}},"color":{"condition":{"test":"datum.parent === 'Ler'","value":"#141414"},"value":"#9c9c9c"}}}]},
      {"data":{"name":"auc"},"transform":[{"filter":{"field":"cross","equal":"Ler/Fei-0"}}],"width":176,"height":181,"layer":[
        {"transform":[{"filter":"isValid(datum.n)"}],"mark":{"type":"rect","color":"#000000","stroke":"#000000","strokeWidth":0.6},"encoding":{"x":{"field":"lo","type":"quantitative","scale":{"domain":[-2.9,86.6],"nice":false,"zero":false},"axis":{"title":null,"values":[0,4,8,12,16,20,24,28,32,36,40,44,48,52,56,60,64,68,72,76,80],"labelExpr":"datum.value % 20 === 0 ? datum.label : ''","offset":-17.3}},"x2":{"field":"hi"},"y":{"field":"n","type":"quantitative","scale":{"domain":[-5.47,51.75],"nice":false,"zero":false},"axis":{"title":null,"values":[0,7,14,21,28,35,42,49],"labels":false,"ticks":false,"domain":false}},"y2":{"datum":0}}},
        {"transform":[{"filter":"isValid(datum.parent)"}],"mark":{"type":"point","shape":"M-1,-0.85L0,-0.5L1,-0.85L0,0.85Z","filled":true,"size":130,"opacity":1},"encoding":{"x":{"field":"value","type":"quantitative","axis":{"title":null,"values":[0,4,8,12,16,20,24,28,32,36,40,44,48,52,56,60,64,68,72,76,80],"labelExpr":"datum.value % 20 === 0 ? datum.label : ''","offset":-17.3}},"y":{"field":"level","type":"quantitative","axis":{"title":null,"values":[0,7,14,21,28,35,42,49],"labels":false,"ticks":false,"domain":false}},"color":{"condition":{"test":"datum.parent === 'Ler'","value":"#141414"},"value":"#9c9c9c"}}}]},
      {"data":{"name":"auc"},"transform":[{"filter":{"field":"cross","equal":"Ler/Kas-2"}}],"width":176,"height":181,"layer":[
        {"transform":[{"filter":"isValid(datum.n)"}],"mark":{"type":"rect","color":"#000000","stroke":"#000000","strokeWidth":0.6},"encoding":{"x":{"field":"lo","type":"quantitative","scale":{"domain":[-2.9,86.6],"nice":false,"zero":false},"axis":{"title":null,"values":[0,4,8,12,16,20,24,28,32,36,40,44,48,52,56,60,64,68,72,76,80],"labelExpr":"datum.value % 20 === 0 ? datum.label : ''","offset":-17.3}},"x2":{"field":"hi"},"y":{"field":"n","type":"quantitative","scale":{"domain":[-5.47,51.75],"nice":false,"zero":false},"axis":{"title":null,"values":[0,7,14,21,28,35,42,49],"labels":false,"ticks":false,"domain":false}},"y2":{"datum":0}}},
        {"transform":[{"filter":"isValid(datum.parent)"}],"mark":{"type":"point","shape":"M-1,-0.85L0,-0.5L1,-0.85L0,0.85Z","filled":true,"size":130,"opacity":1},"encoding":{"x":{"field":"value","type":"quantitative","axis":{"title":null,"values":[0,4,8,12,16,20,24,28,32,36,40,44,48,52,56,60,64,68,72,76,80],"labelExpr":"datum.value % 20 === 0 ? datum.label : ''","offset":-17.3}},"y":{"field":"level","type":"quantitative","axis":{"title":null,"values":[0,7,14,21,28,35,42,49],"labels":false,"ticks":false,"domain":false}},"color":{"condition":{"test":"datum.parent === 'Ler'","value":"#141414"},"value":"#9c9c9c"}}}]},
      {"data":{"name":"auc"},"transform":[{"filter":{"field":"cross","equal":"Ler/Kond"}}],"width":176,"height":181,"layer":[
        {"transform":[{"filter":"isValid(datum.n)"}],"mark":{"type":"rect","color":"#000000","stroke":"#000000","strokeWidth":0.6},"encoding":{"x":{"field":"lo","type":"quantitative","scale":{"domain":[-2.9,86.6],"nice":false,"zero":false},"axis":{"title":null,"values":[0,4,8,12,16,20,24,28,32,36,40,44,48,52,56,60,64,68,72,76,80],"labelExpr":"datum.value % 20 === 0 ? datum.label : ''","offset":-17.3}},"x2":{"field":"hi"},"y":{"field":"n","type":"quantitative","scale":{"domain":[-5.47,51.75],"nice":false,"zero":false},"axis":{"title":null,"values":[0,7,14,21,28,35,42,49],"labels":false,"ticks":false,"domain":false}},"y2":{"datum":0}}},
        {"transform":[{"filter":"isValid(datum.parent)"}],"mark":{"type":"point","shape":"M-1,-0.85L0,-0.5L1,-0.85L0,0.85Z","filled":true,"size":130,"opacity":1},"encoding":{"x":{"field":"value","type":"quantitative","axis":{"title":null,"values":[0,4,8,12,16,20,24,28,32,36,40,44,48,52,56,60,64,68,72,76,80],"labelExpr":"datum.value % 20 === 0 ? datum.label : ''","offset":-17.3}},"y":{"field":"level","type":"quantitative","axis":{"title":null,"values":[0,7,14,21,28,35,42,49],"labels":false,"ticks":false,"domain":false}},"color":{"condition":{"test":"datum.parent === 'Ler'","value":"#141414"},"value":"#9c9c9c"}}}]},
      {"data":{"name":"auc"},"transform":[{"filter":{"field":"cross","equal":"Ler/Sha"}}],"width":176,"height":181,"layer":[
        {"transform":[{"filter":"isValid(datum.n)"}],"mark":{"type":"rect","color":"#000000","stroke":"#000000","strokeWidth":0.6},"encoding":{"x":{"field":"lo","type":"quantitative","scale":{"domain":[-2.9,86.6],"nice":false,"zero":false},"axis":{"title":null,"values":[0,4,8,12,16,20,24,28,32,36,40,44,48,52,56,60,64,68,72,76,80],"labelExpr":"datum.value % 20 === 0 ? datum.label : ''","offset":-17.3}},"x2":{"field":"hi"},"y":{"field":"n","type":"quantitative","scale":{"domain":[-5.47,51.75],"nice":false,"zero":false},"axis":{"title":"AUC","orient":"right","titleAngle":0,"titleX":12,"titleY":172,"titleAlign":"left","titleBaseline":"alphabetic","titleFontSize":22,"values":[0,7,14,21,28,35,42,49],"labels":false,"ticks":false,"domain":false}},"y2":{"datum":0}}},
        {"transform":[{"filter":"isValid(datum.parent)"}],"mark":{"type":"point","shape":"M-1,-0.85L0,-0.5L1,-0.85L0,0.85Z","filled":true,"size":130,"opacity":1},"encoding":{"x":{"field":"value","type":"quantitative","axis":{"title":null,"values":[0,4,8,12,16,20,24,28,32,36,40,44,48,52,56,60,64,68,72,76,80],"labelExpr":"datum.value % 20 === 0 ? datum.label : ''","offset":-17.3}},"y":{"field":"level","type":"quantitative","axis":{"title":"AUC","orient":"right","titleAngle":0,"titleX":12,"titleY":172,"titleAlign":"left","titleBaseline":"alphabetic","titleFontSize":22,"values":[0,7,14,21,28,35,42,49],"labels":false,"ticks":false,"domain":false}},"color":{"condition":{"test":"datum.parent === 'Ler'","value":"#141414"},"value":"#9c9c9c"}}}]}
    ], "spacing": 0, "bounds": "flush"}
  ]},
  {"spacing": -3, "vconcat": [
    {"hconcat": [
      {"data":{"name":"t10"},"transform":[{"filter":{"field":"cross","equal":"Ler/An-1"}}],"width":176,"height":181,"layer":[
        {"transform":[{"filter":"isValid(datum.n)"}],"mark":{"type":"rect","color":"#000000","stroke":"#000000","strokeWidth":0.6},"encoding":{"x":{"field":"lo","type":"quantitative","scale":{"domain":[22.3,111.8],"nice":false,"zero":false},"axis":{"title":null,"values":[26,30,34,38,42,46,50,54,58,62,66,70,74,78,82,86,90,94,98,102,106],"labelExpr":"(datum.value - 26) % 20 === 0 ? datum.label : ''","offset":-17.3}},"x2":{"field":"hi"},"y":{"field":"n","type":"quantitative","scale":{"domain":[-8.65,81.75],"nice":false,"zero":false},"axis":{"title":"C","titleAngle":0,"titleX":-54,"titleY":31,"titleAlign":"left","titleBaseline":"middle","titleFontSize":24,"values":[0,11,22,33,44,55,66,77],"offset":6}},"y2":{"datum":0}}},
        {"transform":[{"filter":"isValid(datum.parent)"}],"mark":{"type":"point","shape":"M-1,-0.85L0,-0.5L1,-0.85L0,0.85Z","filled":true,"size":130,"opacity":1},"encoding":{"x":{"field":"value","type":"quantitative","axis":{"title":null,"values":[26,30,34,38,42,46,50,54,58,62,66,70,74,78,82,86,90,94,98,102,106],"labelExpr":"(datum.value - 26) % 20 === 0 ? datum.label : ''","offset":-17.3}},"y":{"field":"level","type":"quantitative","axis":{"title":"C","titleAngle":0,"titleX":-54,"titleY":31,"titleAlign":"left","titleBaseline":"middle","titleFontSize":24,"values":[0,11,22,33,44,55,66,77],"offset":6}},"color":{"condition":{"test":"datum.parent === 'Ler'","value":"#141414"},"value":"#9c9c9c"}}}]},
      {"data":{"name":"t10"},"transform":[{"filter":{"field":"cross","equal":"Ler/Cvi"}}],"width":176,"height":181,"layer":[
        {"transform":[{"filter":"isValid(datum.n)"}],"mark":{"type":"rect","color":"#000000","stroke":"#000000","strokeWidth":0.6},"encoding":{"x":{"field":"lo","type":"quantitative","scale":{"domain":[22.3,111.8],"nice":false,"zero":false},"axis":{"title":null,"values":[26,30,34,38,42,46,50,54,58,62,66,70,74,78,82,86,90,94,98,102,106],"labelExpr":"(datum.value - 26) % 20 === 0 ? datum.label : ''","offset":-17.3}},"x2":{"field":"hi"},"y":{"field":"n","type":"quantitative","scale":{"domain":[-8.65,81.75],"nice":false,"zero":false},"axis":{"title":null,"values":[0,11,22,33,44,55,66,77],"labels":false,"ticks":false,"domain":false}},"y2":{"datum":0}}},
        {"transform":[{"filter":"isValid(datum.parent)"}],"mark":{"type":"point","shape":"M-1,-0.85L0,-0.5L1,-0.85L0,0.85Z","filled":true,"size":130,"opacity":1},"encoding":{"x":{"field":"value","type":"quantitative","axis":{"title":null,"values":[26,30,34,38,42,46,50,54,58,62,66,70,74,78,82,86,90,94,98,102,106],"labelExpr":"(datum.value - 26) % 20 === 0 ? datum.label : ''","offset":-17.3}},"y":{"field":"level","type":"quantitative","axis":{"title":null,"values":[0,11,22,33,44,55,66,77],"labels":false,"ticks":false,"domain":false}},"color":{"condition":{"test":"datum.parent === 'Ler'","value":"#141414"},"value":"#9c9c9c"}}}]},
      {"data":{"name":"t10"},"transform":[{"filter":{"field":"cross","equal":"Ler/Fei-0"}}],"width":176,"height":181,"layer":[
        {"transform":[{"filter":"isValid(datum.n)"}],"mark":{"type":"rect","color":"#000000","stroke":"#000000","strokeWidth":0.6},"encoding":{"x":{"field":"lo","type":"quantitative","scale":{"domain":[22.3,111.8],"nice":false,"zero":false},"axis":{"title":null,"values":[26,30,34,38,42,46,50,54,58,62,66,70,74,78,82,86,90,94,98,102,106],"labelExpr":"(datum.value - 26) % 20 === 0 ? datum.label : ''","offset":-17.3}},"x2":{"field":"hi"},"y":{"field":"n","type":"quantitative","scale":{"domain":[-8.65,81.75],"nice":false,"zero":false},"axis":{"title":null,"values":[0,11,22,33,44,55,66,77],"labels":false,"ticks":false,"domain":false}},"y2":{"datum":0}}},
        {"transform":[{"filter":"isValid(datum.parent)"}],"mark":{"type":"point","shape":"M-1,-0.85L0,-0.5L1,-0.85L0,0.85Z","filled":true,"size":130,"opacity":1},"encoding":{"x":{"field":"value","type":"quantitative","axis":{"title":null,"values":[26,30,34,38,42,46,50,54,58,62,66,70,74,78,82,86,90,94,98,102,106],"labelExpr":"(datum.value - 26) % 20 === 0 ? datum.label : ''","offset":-17.3}},"y":{"field":"level","type":"quantitative","axis":{"title":null,"values":[0,11,22,33,44,55,66,77],"labels":false,"ticks":false,"domain":false}},"color":{"condition":{"test":"datum.parent === 'Ler'","value":"#141414"},"value":"#9c9c9c"}}}]},
      {"data":{"name":"t10"},"transform":[{"filter":{"field":"cross","equal":"Ler/Kas-2"}}],"width":176,"height":181,"layer":[
        {"transform":[{"filter":"isValid(datum.n)"}],"mark":{"type":"rect","color":"#000000","stroke":"#000000","strokeWidth":0.6},"encoding":{"x":{"field":"lo","type":"quantitative","scale":{"domain":[22.3,111.8],"nice":false,"zero":false},"axis":{"title":null,"values":[26,30,34,38,42,46,50,54,58,62,66,70,74,78,82,86,90,94,98,102,106],"labelExpr":"(datum.value - 26) % 20 === 0 ? datum.label : ''","offset":-17.3}},"x2":{"field":"hi"},"y":{"field":"n","type":"quantitative","scale":{"domain":[-8.65,81.75],"nice":false,"zero":false},"axis":{"title":null,"values":[0,11,22,33,44,55,66,77],"labels":false,"ticks":false,"domain":false}},"y2":{"datum":0}}},
        {"transform":[{"filter":"isValid(datum.parent)"}],"mark":{"type":"point","shape":"M-1,-0.85L0,-0.5L1,-0.85L0,0.85Z","filled":true,"size":130,"opacity":1},"encoding":{"x":{"field":"value","type":"quantitative","axis":{"title":null,"values":[26,30,34,38,42,46,50,54,58,62,66,70,74,78,82,86,90,94,98,102,106],"labelExpr":"(datum.value - 26) % 20 === 0 ? datum.label : ''","offset":-17.3}},"y":{"field":"level","type":"quantitative","axis":{"title":null,"values":[0,11,22,33,44,55,66,77],"labels":false,"ticks":false,"domain":false}},"color":{"condition":{"test":"datum.parent === 'Ler'","value":"#141414"},"value":"#9c9c9c"}}}]},
      {"data":{"name":"t10"},"transform":[{"filter":{"field":"cross","equal":"Ler/Kond"}}],"width":176,"height":181,"layer":[
        {"transform":[{"filter":"isValid(datum.n)"}],"mark":{"type":"rect","color":"#000000","stroke":"#000000","strokeWidth":0.6},"encoding":{"x":{"field":"lo","type":"quantitative","scale":{"domain":[22.3,111.8],"nice":false,"zero":false},"axis":{"title":null,"values":[26,30,34,38,42,46,50,54,58,62,66,70,74,78,82,86,90,94,98,102,106],"labelExpr":"(datum.value - 26) % 20 === 0 ? datum.label : ''","offset":-17.3}},"x2":{"field":"hi"},"y":{"field":"n","type":"quantitative","scale":{"domain":[-8.65,81.75],"nice":false,"zero":false},"axis":{"title":null,"values":[0,11,22,33,44,55,66,77],"labels":false,"ticks":false,"domain":false}},"y2":{"datum":0}}},
        {"transform":[{"filter":"isValid(datum.parent)"}],"mark":{"type":"point","shape":"M-1,-0.85L0,-0.5L1,-0.85L0,0.85Z","filled":true,"size":130,"opacity":1},"encoding":{"x":{"field":"value","type":"quantitative","axis":{"title":null,"values":[26,30,34,38,42,46,50,54,58,62,66,70,74,78,82,86,90,94,98,102,106],"labelExpr":"(datum.value - 26) % 20 === 0 ? datum.label : ''","offset":-17.3}},"y":{"field":"level","type":"quantitative","axis":{"title":null,"values":[0,11,22,33,44,55,66,77],"labels":false,"ticks":false,"domain":false}},"color":{"condition":{"test":"datum.parent === 'Ler'","value":"#141414"},"value":"#9c9c9c"}}}]},
      {"data":{"name":"t10"},"transform":[{"filter":{"field":"cross","equal":"Ler/Sha"}}],"width":176,"height":181,"layer":[
        {"transform":[{"filter":"isValid(datum.n)"}],"mark":{"type":"rect","color":"#000000","stroke":"#000000","strokeWidth":0.6},"encoding":{"x":{"field":"lo","type":"quantitative","scale":{"domain":[22.3,111.8],"nice":false,"zero":false},"axis":{"title":null,"values":[26,30,34,38,42,46,50,54,58,62,66,70,74,78,82,86,90,94,98,102,106],"labelExpr":"(datum.value - 26) % 20 === 0 ? datum.label : ''","offset":-17.3}},"x2":{"field":"hi"},"y":{"field":"n","type":"quantitative","scale":{"domain":[-8.65,81.75],"nice":false,"zero":false},"axis":{"title":"t10totS(h)","orient":"right","titleAngle":0,"titleX":12,"titleY":172,"titleAlign":"left","titleBaseline":"alphabetic","titleFontSize":22,"values":[0,11,22,33,44,55,66,77],"labels":false,"ticks":false,"domain":false}},"y2":{"datum":0}}},
        {"transform":[{"filter":"isValid(datum.parent)"}],"mark":{"type":"point","shape":"M-1,-0.85L0,-0.5L1,-0.85L0,0.85Z","filled":true,"size":130,"opacity":1},"encoding":{"x":{"field":"value","type":"quantitative","axis":{"title":null,"values":[26,30,34,38,42,46,50,54,58,62,66,70,74,78,82,86,90,94,98,102,106],"labelExpr":"(datum.value - 26) % 20 === 0 ? datum.label : ''","offset":-17.3}},"y":{"field":"level","type":"quantitative","axis":{"title":"t10totS(h)","orient":"right","titleAngle":0,"titleX":12,"titleY":172,"titleAlign":"left","titleBaseline":"alphabetic","titleFontSize":22,"values":[0,11,22,33,44,55,66,77],"labels":false,"ticks":false,"domain":false}},"color":{"condition":{"test":"datum.parent === 'Ler'","value":"#141414"},"value":"#9c9c9c"}}}]}
    ], "spacing": 0, "bounds": "flush"},
    {"hconcat": [
      {"data":{"name":"t50"},"transform":[{"filter":{"field":"cross","equal":"Ler/An-1"}}],"width":176,"height":181,"layer":[
        {"transform":[{"filter":"isValid(datum.n)"}],"mark":{"type":"rect","color":"#000000","stroke":"#000000","strokeWidth":0.6},"encoding":{"x":{"field":"lo","type":"quantitative","scale":{"domain":[30.9,139.7],"nice":false,"zero":false},"axis":{"title":null,"values":[35,40,45,50,55,60,65,70,75,80,85,90,95,100,105,110,115,120,125,130,135],"labelExpr":"(datum.value - 35) % 25 === 0 ? datum.label : ''","offset":-18}},"x2":{"field":"hi"},"y":{"field":"n","type":"quantitative","scale":{"domain":[-7.4,67],"nice":false,"zero":false},"axis":{"title":"D","titleAngle":0,"titleX":-54,"titleY":15,"titleAlign":"left","titleBaseline":"middle","titleFontSize":24,"values":[0,9,18,27,36,45,54,63],"offset":6}},"y2":{"datum":0}}},
        {"transform":[{"filter":"isValid(datum.parent)"}],"mark":{"type":"point","shape":"M-1,-0.85L0,-0.5L1,-0.85L0,0.85Z","filled":true,"size":130,"opacity":1},"encoding":{"x":{"field":"value","type":"quantitative","axis":{"title":null,"values":[35,40,45,50,55,60,65,70,75,80,85,90,95,100,105,110,115,120,125,130,135],"labelExpr":"(datum.value - 35) % 25 === 0 ? datum.label : ''","offset":-18}},"y":{"field":"level","type":"quantitative","axis":{"title":"D","titleAngle":0,"titleX":-54,"titleY":15,"titleAlign":"left","titleBaseline":"middle","titleFontSize":24,"values":[0,9,18,27,36,45,54,63],"offset":6}},"color":{"condition":{"test":"datum.parent === 'Ler'","value":"#141414"},"value":"#9c9c9c"}}}]},
      {"data":{"name":"t50"},"transform":[{"filter":{"field":"cross","equal":"Ler/Cvi"}}],"width":176,"height":181,"layer":[
        {"transform":[{"filter":"isValid(datum.n)"}],"mark":{"type":"rect","color":"#000000","stroke":"#000000","strokeWidth":0.6},"encoding":{"x":{"field":"lo","type":"quantitative","scale":{"domain":[30.9,139.7],"nice":false,"zero":false},"axis":{"title":null,"values":[35,40,45,50,55,60,65,70,75,80,85,90,95,100,105,110,115,120,125,130,135],"labelExpr":"(datum.value - 35) % 25 === 0 ? datum.label : ''","offset":-18}},"x2":{"field":"hi"},"y":{"field":"n","type":"quantitative","scale":{"domain":[-7.4,67],"nice":false,"zero":false},"axis":{"title":null,"values":[0,9,18,27,36,45,54,63],"labels":false,"ticks":false,"domain":false}},"y2":{"datum":0}}},
        {"transform":[{"filter":"isValid(datum.parent)"}],"mark":{"type":"point","shape":"M-1,-0.85L0,-0.5L1,-0.85L0,0.85Z","filled":true,"size":130,"opacity":1},"encoding":{"x":{"field":"value","type":"quantitative","axis":{"title":null,"values":[35,40,45,50,55,60,65,70,75,80,85,90,95,100,105,110,115,120,125,130,135],"labelExpr":"(datum.value - 35) % 25 === 0 ? datum.label : ''","offset":-18}},"y":{"field":"level","type":"quantitative","axis":{"title":null,"values":[0,9,18,27,36,45,54,63],"labels":false,"ticks":false,"domain":false}},"color":{"condition":{"test":"datum.parent === 'Ler'","value":"#141414"},"value":"#9c9c9c"}}}]},
      {"data":{"name":"t50"},"transform":[{"filter":{"field":"cross","equal":"Ler/Fei-0"}}],"width":176,"height":181,"layer":[
        {"transform":[{"filter":"isValid(datum.n)"}],"mark":{"type":"rect","color":"#000000","stroke":"#000000","strokeWidth":0.6},"encoding":{"x":{"field":"lo","type":"quantitative","scale":{"domain":[30.9,139.7],"nice":false,"zero":false},"axis":{"title":null,"values":[35,40,45,50,55,60,65,70,75,80,85,90,95,100,105,110,115,120,125,130,135],"labelExpr":"(datum.value - 35) % 25 === 0 ? datum.label : ''","offset":-18}},"x2":{"field":"hi"},"y":{"field":"n","type":"quantitative","scale":{"domain":[-7.4,67],"nice":false,"zero":false},"axis":{"title":null,"values":[0,9,18,27,36,45,54,63],"labels":false,"ticks":false,"domain":false}},"y2":{"datum":0}}},
        {"transform":[{"filter":"isValid(datum.parent)"}],"mark":{"type":"point","shape":"M-1,-0.85L0,-0.5L1,-0.85L0,0.85Z","filled":true,"size":130,"opacity":1},"encoding":{"x":{"field":"value","type":"quantitative","axis":{"title":null,"values":[35,40,45,50,55,60,65,70,75,80,85,90,95,100,105,110,115,120,125,130,135],"labelExpr":"(datum.value - 35) % 25 === 0 ? datum.label : ''","offset":-18}},"y":{"field":"level","type":"quantitative","axis":{"title":null,"values":[0,9,18,27,36,45,54,63],"labels":false,"ticks":false,"domain":false}},"color":{"condition":{"test":"datum.parent === 'Ler'","value":"#141414"},"value":"#9c9c9c"}}}]},
      {"data":{"name":"t50"},"transform":[{"filter":{"field":"cross","equal":"Ler/Kas-2"}}],"width":176,"height":181,"layer":[
        {"transform":[{"filter":"isValid(datum.n)"}],"mark":{"type":"rect","color":"#000000","stroke":"#000000","strokeWidth":0.6},"encoding":{"x":{"field":"lo","type":"quantitative","scale":{"domain":[30.9,139.7],"nice":false,"zero":false},"axis":{"title":null,"values":[35,40,45,50,55,60,65,70,75,80,85,90,95,100,105,110,115,120,125,130,135],"labelExpr":"(datum.value - 35) % 25 === 0 ? datum.label : ''","offset":-18}},"x2":{"field":"hi"},"y":{"field":"n","type":"quantitative","scale":{"domain":[-7.4,67],"nice":false,"zero":false},"axis":{"title":null,"values":[0,9,18,27,36,45,54,63],"labels":false,"ticks":false,"domain":false}},"y2":{"datum":0}}},
        {"transform":[{"filter":"isValid(datum.parent)"}],"mark":{"type":"point","shape":"M-1,-0.85L0,-0.5L1,-0.85L0,0.85Z","filled":true,"size":130,"opacity":1},"encoding":{"x":{"field":"value","type":"quantitative","axis":{"title":null,"values":[35,40,45,50,55,60,65,70,75,80,85,90,95,100,105,110,115,120,125,130,135],"labelExpr":"(datum.value - 35) % 25 === 0 ? datum.label : ''","offset":-18}},"y":{"field":"level","type":"quantitative","axis":{"title":null,"values":[0,9,18,27,36,45,54,63],"labels":false,"ticks":false,"domain":false}},"color":{"condition":{"test":"datum.parent === 'Ler'","value":"#141414"},"value":"#9c9c9c"}}}]},
      {"data":{"name":"t50"},"transform":[{"filter":{"field":"cross","equal":"Ler/Kond"}}],"width":176,"height":181,"layer":[
        {"transform":[{"filter":"isValid(datum.n)"}],"mark":{"type":"rect","color":"#000000","stroke":"#000000","strokeWidth":0.6},"encoding":{"x":{"field":"lo","type":"quantitative","scale":{"domain":[30.9,139.7],"nice":false,"zero":false},"axis":{"title":null,"values":[35,40,45,50,55,60,65,70,75,80,85,90,95,100,105,110,115,120,125,130,135],"labelExpr":"(datum.value - 35) % 25 === 0 ? datum.label : ''","offset":-18}},"x2":{"field":"hi"},"y":{"field":"n","type":"quantitative","scale":{"domain":[-7.4,67],"nice":false,"zero":false},"axis":{"title":null,"values":[0,9,18,27,36,45,54,63],"labels":false,"ticks":false,"domain":false}},"y2":{"datum":0}}},
        {"transform":[{"filter":"isValid(datum.parent)"}],"mark":{"type":"point","shape":"M-1,-0.85L0,-0.5L1,-0.85L0,0.85Z","filled":true,"size":130,"opacity":1},"encoding":{"x":{"field":"value","type":"quantitative","axis":{"title":null,"values":[35,40,45,50,55,60,65,70,75,80,85,90,95,100,105,110,115,120,125,130,135],"labelExpr":"(datum.value - 35) % 25 === 0 ? datum.label : ''","offset":-18}},"y":{"field":"level","type":"quantitative","axis":{"title":null,"values":[0,9,18,27,36,45,54,63],"labels":false,"ticks":false,"domain":false}},"color":{"condition":{"test":"datum.parent === 'Ler'","value":"#141414"},"value":"#9c9c9c"}}}]},
      {"data":{"name":"t50"},"transform":[{"filter":{"field":"cross","equal":"Ler/Sha"}}],"width":176,"height":181,"layer":[
        {"transform":[{"filter":"isValid(datum.n)"}],"mark":{"type":"rect","color":"#000000","stroke":"#000000","strokeWidth":0.6},"encoding":{"x":{"field":"lo","type":"quantitative","scale":{"domain":[30.9,139.7],"nice":false,"zero":false},"axis":{"title":null,"values":[35,40,45,50,55,60,65,70,75,80,85,90,95,100,105,110,115,120,125,130,135],"labelExpr":"(datum.value - 35) % 25 === 0 ? datum.label : ''","offset":-18}},"x2":{"field":"hi"},"y":{"field":"n","type":"quantitative","scale":{"domain":[-7.4,67],"nice":false,"zero":false},"axis":{"title":"t50Gmax(h)","orient":"right","titleAngle":0,"titleX":8,"titleY":169,"titleAlign":"left","titleBaseline":"alphabetic","titleFontSize":22,"values":[0,9,18,27,36,45,54,63],"labels":false,"ticks":false,"domain":false}},"y2":{"datum":0}}},
        {"transform":[{"filter":"isValid(datum.parent)"}],"mark":{"type":"point","shape":"M-1,-0.85L0,-0.5L1,-0.85L0,0.85Z","filled":true,"size":130,"opacity":1},"encoding":{"x":{"field":"value","type":"quantitative","axis":{"title":null,"values":[35,40,45,50,55,60,65,70,75,80,85,90,95,100,105,110,115,120,125,130,135],"labelExpr":"(datum.value - 35) % 25 === 0 ? datum.label : ''","offset":-18}},"y":{"field":"level","type":"quantitative","axis":{"title":"t50Gmax(h)","orient":"right","titleAngle":0,"titleX":8,"titleY":169,"titleAlign":"left","titleBaseline":"alphabetic","titleFontSize":22,"values":[0,9,18,27,36,45,54,63],"labels":false,"ticks":false,"domain":false}},"color":{"condition":{"test":"datum.parent === 'Ler'","value":"#141414"},"value":"#9c9c9c"}}}]}
    ], "spacing": 0, "bounds": "flush"}
  ]}
  ],
  "config": {
    "font": "Liberation Sans",
    "view": {"stroke": "#b4b4b4", "strokeWidth": 1.5},
    "title": {"fontSize": 26, "fontWeight": "normal", "font": "Liberation Sans", "color": "#000000", "offset": 9, "anchor": "middle"},
    "axisX": {"grid": false, "domainWidth": 3, "tickWidth": 1.5, "tickSize": 5, "labelFontSize": 12, "labelPadding": 1, "labelOverlap": false, "labelFlush": false, "labelBound": false},
    "axisY": {"grid": true, "gridWidth": 2, "domainWidth": 3, "tickWidth": 3, "tickSize": 4, "labelFontSize": 11, "labelPadding": 2, "labelOverlap": false},
    "axis": {"domainColor": "#8c8c8c", "tickColor": "#8c8c8c", "gridColor": "#8c8c8c", "labelColor": "#2a2a2a", "labelFont": "Liberation Sans", "titleFont": "Liberation Sans", "titleFontWeight": "normal", "titleColor": "#000000"}
  }
}
